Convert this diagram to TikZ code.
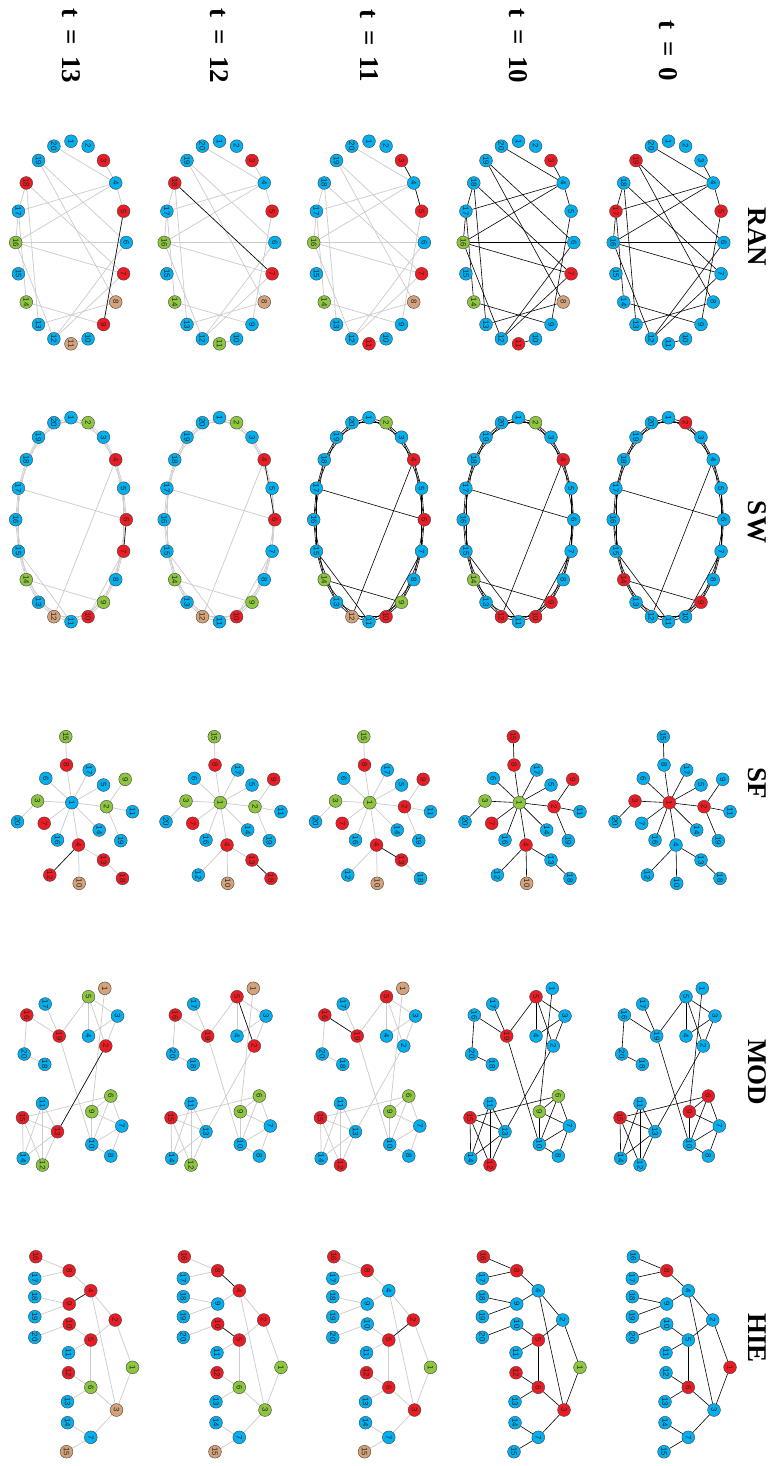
\documentclass[tikz,border=0pt]{standalone}
\usepackage{fontspec}
\setmainfont{Liberation Serif}
\newfontfamily\numfont{Liberation Sans}
\usepackage{tikz}
\usetikzlibrary{positioning}

\definecolor{nblue}{RGB}{0,176,240}
\definecolor{nred}{RGB}{237,28,36}
\definecolor{ngreen}{RGB}{141,198,63}
\definecolor{ntan}{RGB}{214,162,122}
\definecolor{egray}{RGB}{205,205,205}

\pgfdeclarelayer{edges}
\pgfsetlayers{edges,main}

% node colours of each panel (blue unless set)
\newcommand\setcol[3]{\foreach \k in {#3}{\expandafter\xdef\csname col@#1@\k\endcsname{#2}}}
\newcommand\getcol[2]{\ifcsname col@#1@#2\endcsname\csname col@#1@#2\endcsname\else nblue\fi}
\newcommand\tlabel[1]{t\hspace{0.42em}=\hspace{0.42em}#1}

\setcol{ran0}{nred}{5,17,19}
\setcol{ran10}{nred}{3,7,11}\setcol{ran10}{ngreen}{14,16}\setcol{ran10}{ntan}{8}
\setcol{ran11}{nred}{3,5,7,11}\setcol{ran11}{ngreen}{14,16}\setcol{ran11}{ntan}{8}
\setcol{ran12}{nred}{3,5,7,18}\setcol{ran12}{ngreen}{11,14,16}\setcol{ran12}{ntan}{8}
\setcol{ran13}{nred}{3,5,7,9,18}\setcol{ran13}{ngreen}{14,16}\setcol{ran13}{ntan}{8,11}

\setcol{sw0}{nred}{2,9,14}
\setcol{sw10}{nred}{4,9,10,12}\setcol{sw10}{ngreen}{2,14}
\setcol{sw11}{nred}{4,6,10}\setcol{sw11}{ngreen}{2,9,14}\setcol{sw11}{ntan}{12}
\setcol{sw12}{nred}{4,6,10}\setcol{sw12}{ngreen}{2,9,14}\setcol{sw12}{ntan}{12}
\setcol{sw13}{nred}{4,6,7,10}\setcol{sw13}{ngreen}{2,9,14}\setcol{sw13}{ntan}{12}

\setcol{sf0}{nred}{1,2,3}
\setcol{sf10}{nred}{2,4,7,8,9,15}\setcol{sf10}{ngreen}{1,3}\setcol{sf10}{ntan}{10}
\setcol{sf11}{nred}{2,4,7,8,9,13}\setcol{sf11}{ngreen}{1,3,15}\setcol{sf11}{ntan}{10}
\setcol{sf12}{nred}{4,7,8,9,13,18}\setcol{sf12}{ngreen}{1,2,3,15}\setcol{sf12}{ntan}{10}
\setcol{sf13}{nred}{4,7,8,12,13,18}\setcol{sf13}{ngreen}{2,3,9,15}\setcol{sf13}{ntan}{10}

\setcol{mod0}{nred}{6,9,15}
\setcol{mod10}{nred}{5,12,15,19}\setcol{mod10}{ngreen}{6,9}
\setcol{mod11}{nred}{5,12,15,16,19}\setcol{mod11}{ngreen}{6,9}\setcol{mod11}{ntan}{1}
\setcol{mod12}{nred}{2,5,15,16,19}\setcol{mod12}{ngreen}{6,9,12}\setcol{mod12}{ntan}{1}
\setcol{mod13}{nred}{2,13,15,16,19}\setcol{mod13}{ngreen}{5,6,9,12}\setcol{mod13}{ntan}{1}

\setcol{hie0}{nred}{1,6,8}
\setcol{hie10}{nred}{3,5,6,8,12,16}\setcol{hie10}{ngreen}{1}
\setcol{hie11}{nred}{2,3,5,6,8,12,16}\setcol{hie11}{ngreen}{1}\setcol{hie11}{ntan}{15}
\setcol{hie12}{nred}{2,4,5,8,10,12,16}\setcol{hie12}{ngreen}{1,3,6}\setcol{hie12}{ntan}{15}
\setcol{hie13}{nred}{2,4,5,8,9,10,12,16}\setcol{hie13}{ngreen}{1,6}\setcol{hie13}{ntan}{3,15}

% node positions (t = 0 column) and edge lists
\def\sfpos{1/669.3/802.7, 2/704/806.7, 3/635/801, 4/676/845, 5/701/785,
  6/643.3/778.3, 7/641.7/823.3, 8/664/765, 9/722.7/779.3, 10/676.7/883.3,
  11/730/811.7, 12/647.3/875, 13/701/860, 14/696.7/830, 15/663.3/736.7,
  16/655/840, 17/686.7/770, 18/720/878.3, 19/718.3/840.7, 20/615/821.7}
\def\modpos{1/702.3/988.3, 2/703.3/1046, 3/715/1016, 4/686/1036, 5/686/996.7,
  6/708.3/1096, 7/719.3/1126, 8/708.3/1156, 9/689.3/1111.7, 10/689.3/1144.3,
  11/640/1103.3, 12/640/1165, 13/655/1131.7, 14/620.7/1158.3, 15/620/1117.7,
  16/624.3/1015, 17/642.7/1004, 18/642.3/1064.3, 19/656.7/1036, 20/621.7/1054}
\def\hiepos{1/730/1367.3, 2/712.7/1320, 3/714/1410, 4/688.3/1290.7, 5/688.3/1340,
  6/688.3/1387.3, 7/688.3/1437.3, 8/666.7/1270.7, 9/666.7/1304, 10/666.7/1324,
  11/666/1352.7, 12/666/1372.7, 13/665/1401.7, 14/665/1422.7, 15/664/1451.7,
  16/633.3/1256.7, 17/632.3/1278.3, 18/632.3/1296.7, 19/632.3/1316.7, 20/632.3/1337.3}

\def\ranedges{3/4,4/5,4/20,4/17,4/16,5/9,6/16,6/19,6/12,7/16,7/18,7/12,8/19,8/13,
  9/14,10/11,12/16,13/18,14/17,16/17,17/18}
\def\swchords{6/17,4/12,9/14,11/15,7/10}
\def\sfedges{1/3,1/8,1/6,1/17,1/5,1/2,1/14,1/4,1/16,1/7,8/15,3/20,2/9,2/11,2/19,
  4/12,4/10,4/13,13/18}
\def\modedges{4/5,2/5,3/5,5/19,3/4,2/3,2/13,1/9,17/19,16/19,16/20,18/20,10/19,
  6/15,6/9,6/10,6/7,7/9,9/10,7/10,8/10,7/8,11/14,11/12,11/13,13/15,14/15,12/15,
  12/13,13/14}
\def\hieedges{1/2,1/3,2/4,2/5,3/4,3/6,3/7,4/8,4/9,5/10,5/11,5/6,6/12,6/13,7/14,
  7/15,8/16,8/17,9/18,9/19,10/20}

\begin{document}
\begin{tikzpicture}[
  x=1pt, y=-1pt,
  nd/.style={
    circle,
    draw=black!75,
    line width=0.4pt,
    minimum size=12.8pt,
    inner sep=0pt,
    rotate=-90,
    text=black!85,
    font=\numfont\fontsize{7.8}{7.8}\selectfont
  },
  heading/.style={
    rotate=-90,
    font=\fontsize{27}{27}\selectfont\bfseries
  },
  edgeon/.style={draw=black, line width=0.6pt},
  edgeoff/.style={draw=egray, line width=0.75pt}
]
\useasboundingbox (0,0) rectangle (775,1466);

% Time headings
\node[heading] (tA) at (668.5,51) {\tlabel{0}};
\node[heading] (tB) at (518.5,46) {\tlabel{10}};
\node[heading] (tC) at (369,46) {\tlabel{11}};
\node[heading] (tD) at (219.5,46) {\tlabel{12}};
\node[heading] (tE) at (71,46) {\tlabel{13}};

% Network headings
\node[heading] (hran) at (757,237) {RAN};
\node[heading] (hsw) at (757,522) {SW};
\node[heading] (hsf) at (757,783) {SF};
\node[heading] (hmod) at (757,1072) {MOD};
\node[heading] (hhie) at (757,1338) {HIE};

% Nodes of all panels
\foreach \tm/\dx in {0/0,10/-150,11/-299.5,12/-449,13/-597.5}{
  \foreach \k in {1,...,20}{
    \edef\cc{\getcol{ran\tm}{\k}}
    \node[nd, fill=\cc] (ran\tm-\k) at ({668.5+(\dx)+55.3*cos(-90+18*(\k-1))}, {242.5+101.3*sin(-90+18*(\k-1))}) {\k};
    \edef\cc{\getcol{sw\tm}{\k}}
    \node[nd, fill=\cc] (sw\tm-\k) at ({668.5+(\dx)+55.3*cos(-90+18*(\k-1))}, {519.7+102*sin(-90+18*(\k-1))}) {\k};
  }
  \foreach \k/\px/\py in \sfpos{
    \edef\cc{\getcol{sf\tm}{\k}}
    \node[nd, fill=\cc] (sf\tm-\k) at ({\px+(\dx)}, \py) {\k};
  }
  \foreach \k/\px/\py in \modpos{
    \edef\cc{\getcol{mod\tm}{\k}}
    \node[nd, fill=\cc] (mod\tm-\k) at ({\px+(\dx)}, \py) {\k};
  }
  \foreach \k/\px/\py in \hiepos{
    \edef\cc{\getcol{hie\tm}{\k}}
    \node[nd, fill=\cc] (hie\tm-\k) at ({\px+(\dx)}, \py) {\k};
  }
}

% Connections
\begin{pgfonlayer}{edges}
\foreach \tm/\st in {0/on,10/on,11/off,12/off,13/off}{
  \foreach \a/\b in \ranedges{\draw[edge\st] (ran\tm-\a) -- (ran\tm-\b);}
  \foreach \a/\b in \sfedges{\draw[edge\st] (sf\tm-\a) -- (sf\tm-\b);}
  \foreach \a/\b in \modedges{\draw[edge\st] (mod\tm-\a) -- (mod\tm-\b);}
  \foreach \a/\b in \hieedges{\draw[edge\st] (hie\tm-\a) -- (hie\tm-\b);}
}
\foreach \tm/\st in {0/on,10/on,11/on,12/off,13/off}{
  \foreach \i in {1,...,20}{
    \pgfmathtruncatemacro\j{mod(\i,20)+1}
    \pgfmathtruncatemacro\m{mod(\i+1,20)+1}
    \draw[edge\st] (sw\tm-\i) -- (sw\tm-\j);
    \draw[edge\st] (sw\tm-\i) -- (sw\tm-\m);
  }
  \foreach \a/\b in \swchords{\draw[edge\st] (sw\tm-\a) -- (sw\tm-\b);}
}
% active links in the later steps
\foreach \p/\a/\b in {ran11/3/4, ran11/4/5, ran12/7/18, ran13/5/9,
    sw12/4/6, sw13/6/7, sf11/4/13, sf12/13/18, sf13/4/12,
    mod11/16/19, mod12/2/5, mod13/2/13, hie11/2/5, hie12/4/8, hie12/5/10, hie13/4/9}
  \draw[edgeon] (\p-\a) -- (\p-\b);
\end{pgfonlayer}

\end{tikzpicture}
\end{document}
